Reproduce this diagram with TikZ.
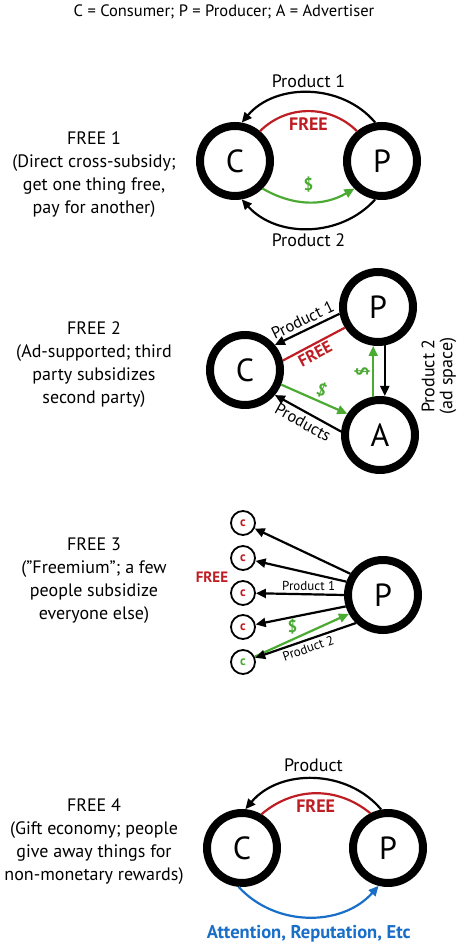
\documentclass[tikz,border=0pt]{standalone}
\usepackage{fontspec}
\setmainfont{PT Sans}
\usepackage{xcolor}
\usepackage{tikz}
\usetikzlibrary{arrows.meta}
\definecolor{freered}{RGB}{190,30,35}
\definecolor{paygreen}{RGB}{75,170,50}
\definecolor{giftblue}{RGB}{25,110,200}
\begin{document}
\begin{tikzpicture}
			[x=1pt,y=1pt,
			party/.style={circle,draw,line width=8pt,minimum size=70pt,inner sep=0pt,font=\fontsize{32}{32}\selectfont},
			small/.style={circle,draw,line width=1.8pt,minimum size=24pt,inner sep=0pt,font=\fontsize{13}{13}\selectfont\bfseries,text=freered},
			caption/.style={align=center,font=\fontsize{18}{23}\selectfont},
			lbl/.style={font=\fontsize{18}{18}\selectfont},
			mid/.style={font=\fontsize{16.5}{16.5}\selectfont},
			tiny/.style={font=\fontsize{13}{13}\selectfont},
			flow/.style={line width=2.2pt,-{Triangle[length=10pt,width=9pt]}},
			free/.style={line width=2.2pt,draw=freered},
			freetxt/.style={text=freered,font=\fontsize{18}{18}\selectfont\bfseries},
			money/.style={flow,draw=paygreen,-{Triangle[length=10pt,width=9pt,fill=paygreen]}},
			moneytxt/.style={text=paygreen,font=\fontsize{17}{17}\selectfont\bfseries}]
				\useasboundingbox (0,0) rectangle (459,951);
				\node (title) at (224,939) {\fontsize{16.5}{16.5}\selectfont C = Consumer; P = Producer; A = Advertiser};
				% FREE 1
				\node [caption] (t1) at (94,776) {FREE 1\\(Direct cross-subsidy;\\get one thing free,\\pay for another)};
				\node [party] (c1) at (235,790) {C};
				\node [party] (p1) at (382,790) {P};
				\draw [flow] (p1.100) to[bend right=50] node[lbl,above=1pt] {Product 1} (c1.80);
				\draw [free] (c1.50) to[bend left=45] node[freetxt,below=2pt] {FREE} (p1.130);
				\draw [money] (c1.-45) to[bend right=30] node[moneytxt,above=5pt] {\$} (p1.-135);
				\draw [flow] (p1.-100) to[bend left=48] node[lbl,below=1pt] {Product 2} (c1.-80);
				% FREE 2
				\node [caption] (t2) at (94,586) {FREE 2\\(Ad-supported; third\\party subsidizes\\second party)};
				\node [party] (c2) at (245,581) {C};
				\node [party] (p2) at (378,644) {P};
				\node [party] (a2) at (380,516) {A};
				\draw [flow] (p2.190) -- node[mid,sloped,above=0pt,pos=0.5] {Product 1} (c2.40);
				\draw [free] (p2.212) -- node[freetxt,mid,font=\fontsize{16.5}{16.5}\selectfont\bfseries,sloped,below=-1pt,pos=0.55] {FREE} (c2.14);
				\draw [money] (c2.-22) -- node[moneytxt,sloped,above=-1pt,pos=0.55] {\$} (a2.147);
				\draw [flow] (a2.175) -- node[mid,sloped,below=0pt,pos=0.5] {Products} (c2.-40);
				\draw [money] (a2.100) -- node[moneytxt,sloped,above=-1pt] {\$} (a2.100 |- p2.south);
				\draw [flow] (p2.-80) -- (p2.-80 |- a2.north);
				\node [lbl,align=center,rotate=90] (ad) at (439,575) {Product 2\\(ad space)};
				% FREE 3
				\node [caption] (t3) at (94,370) {FREE 3\\(''Freemium''; a few\\people subsidize\\everyone else)};
				\node [party] (p3) at (383,356) {P};
				\foreach \i/\y in {1/428,2/393,3/358,4/324}
					\node [small] (s\i) at (243,\y) {c};
				\node [small,text=paygreen] (s5) at (243,289) {c};
				\node [freetxt,font=\fontsize{15}{15}\selectfont\bfseries] (f3) at (212,374) {FREE};
				\foreach \from/\to in {147/s1,160/s2,197/s4}
					\draw [flow] (p3.\from) -- (\to);
				\draw [flow] (p3.180) -- node[tiny,pos=0.4,above=-1pt] {Product 1} (s3);
				\draw [money] (s5) -- node[moneytxt,above=1pt,pos=0.4] {\$} (p3.209);
				\draw [flow] (p3.226) -- node[tiny,sloped,below=-1pt] {Product 2} (s5);
				% FREE 4
				\node [caption] (t4) at (94,109) {FREE 4\\(Gift economy; people\\give away things for\\non-monetary rewards)};
				\node [party] (c4) at (242,103) {C};
				\node [party] (p4) at (388,103) {P};
				\draw [flow] (p4.100) to[bend right=50] node[lbl,above=3pt] {Product} (c4.85);
				\draw [free] (c4.60) to[bend left=40] node[freetxt,below=2pt] {FREE} (p4.117);
				\draw [flow,draw=giftblue,-{Triangle[length=10pt,width=9pt,fill=giftblue]}] (c4.-95) to[bend right=48] node[below=4pt,text=giftblue,font=\fontsize{18.5}{18.5}\selectfont\bfseries] {Attention, Reputation, Etc} (p4.-104);
			\end{tikzpicture}
\end{document}
